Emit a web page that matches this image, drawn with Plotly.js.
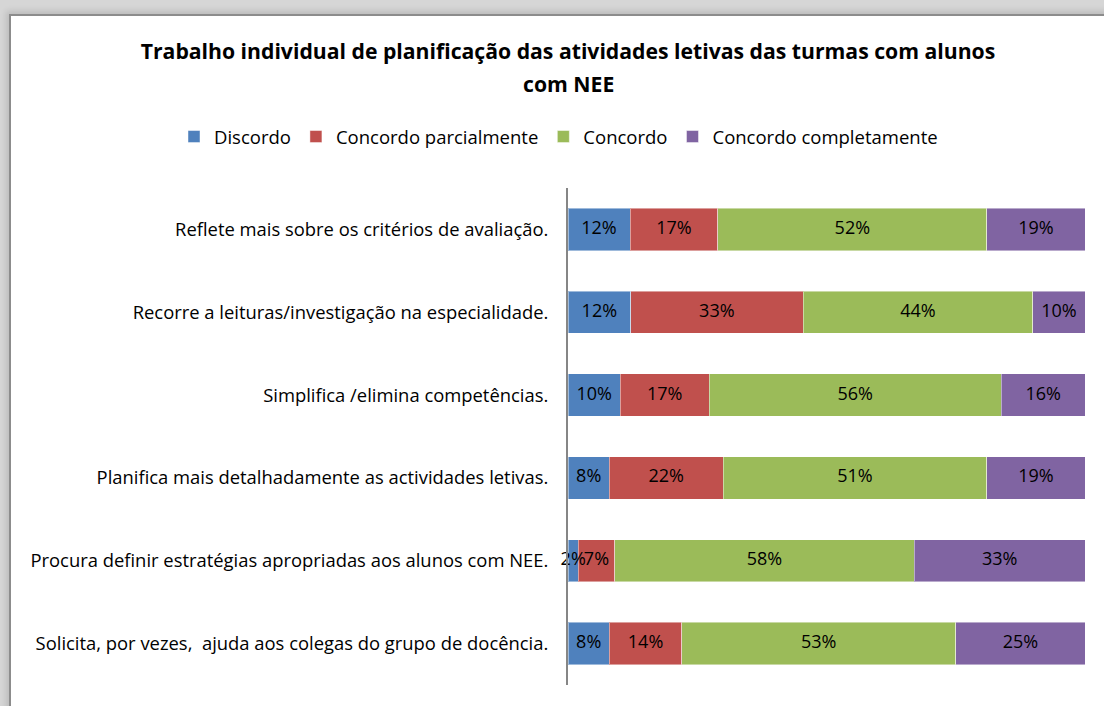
<!DOCTYPE html>
<html>
<head>
<meta charset="utf-8">
<script src="https://cdn.plot.ly/plotly-3.0.1.min.js"></script>
<style>
  html, body { margin: 0; padding: 0; width: 1104px; height: 706px; overflow: hidden; background: #d6d6d6; }
  #frame { position: absolute; left: 9px; top: 14px; width: 1200px; height: 800px; background: #fff; border: 2px solid #8c8c8c; box-shadow: -3px -3px 6px rgba(0,0,0,0.12); }
  #chart { position: absolute; left: 0; top: 0; width: 1104px; height: 706px; }
</style>
</head>
<body>
<div id="frame"></div>
<div id="chart"></div>
<script>
const categories = [
  "Reflete mais sobre os critérios de avaliação.",
  "Recorre a leituras/investigação na especialidade.",
  "Simplifica /elimina competências.",
  "Planifica mais detalhadamente as actividades letivas.",
  "Procura definir estratégias apropriadas aos alunos com NEE.",
  "Solicita, por vezes,  ajuda aos colegas do grupo de docência."
];
const seriesNames = ["Discordo", "Concordo parcialmente", "Concordo", "Concordo completamente"];
const discordo = [12, 12, 10, 8, 2, 8];
const parcialmente = [17, 33, 17, 22, 7, 14];
const concordo = [52, 44, 56, 51, 58, 53];
const completamente = [19, 10, 16, 19, 33, 25];
const colors = ["#4f81bd", "#c0504d", "#9bbb59", "#8064a2"];

const allValues = [discordo, parcialmente, concordo, completamente];
const font = "'Open Sans', sans-serif";

const traces = allValues.map((vals, i) => ({
  type: "bar",
  orientation: "h",
  name: seriesNames[i],
  y: categories,
  x: vals,
  marker: { color: colors[i], line: { color: "rgba(255,255,255,0.45)", width: 1 } },
  hoverinfo: "skip"
}));

// Labels drawn on top of all bars, at the (normalised) centre of each segment
const totals = categories.map((c, j) => allValues.reduce((s, v) => s + v[j], 0));
const labelX = [], labelY = [], labelT = [];
categories.forEach((c, j) => {
  let cum = 0;
  allValues.forEach(vals => {
    const w = vals[j] / totals[j] * 100;
    labelX.push(cum + w / 2);
    labelY.push(c);
    labelT.push(vals[j] + "%");
    cum += w;
  });
});
traces.push({
  type: "scatter",
  mode: "text",
  x: labelX, y: labelY, text: labelT,
  textposition: "middle center",
  textfont: { color: "#000", size: 18, family: font },
  cliponaxis: false,
  showlegend: false,
  hoverinfo: "skip"
});

const layout = {
  width: 1104,
  height: 706,
  paper_bgcolor: "rgba(0,0,0,0)",
  plot_bgcolor: "rgba(0,0,0,0)",
  barmode: "stack",
  barnorm: "percent",
  bargap: 0.49,
  margin: { l: 568, r: 19, t: 188, b: 21 },
  font: { family: font, color: "#000" },
  title: {
    text: "<b>Trabalho individual de planificação das atividades letivas das turmas com alunos</b>",
    font: { family: font, size: 21.2, color: "#000" },
    x: 568 / 1104, xref: "container", xanchor: "center",
    y: 1 - 52 / 706, yref: "container", yanchor: "middle"
  },
  annotations: [{
    text: "<b>com NEE</b>",
    xref: "paper", yref: "paper",
    x: 0, y: 1 + (188 - 84) / 497,
    xanchor: "center", yanchor: "middle",
    showarrow: false,
    font: { family: font, size: 21.2, color: "#000" }
  }],
  legend: {
    orientation: "h",
    xref: "paper", yref: "paper",
    x: (174 - 568) / 517, xanchor: "left",
    y: 1 + (188 - 137) / 497, yanchor: "middle",
    font: { family: font, size: 18.5, color: "#000" },
    traceorder: "normal",
    itemwidth: 30
  },
  xaxis: { visible: false, range: [0, 100], fixedrange: true },
  yaxis: {
    autorange: "reversed",
    showline: true, linecolor: "#868686", linewidth: 2,
    ticks: "", showgrid: false, zeroline: false,
    tickfont: { family: font, size: 18.4, color: "#000" },
    ticklabelstandoff: 14
  },
  showlegend: true
};

Plotly.newPlot("chart", traces, layout, { displayModeBar: false, staticPlot: true });
</script>
</body>
</html>
